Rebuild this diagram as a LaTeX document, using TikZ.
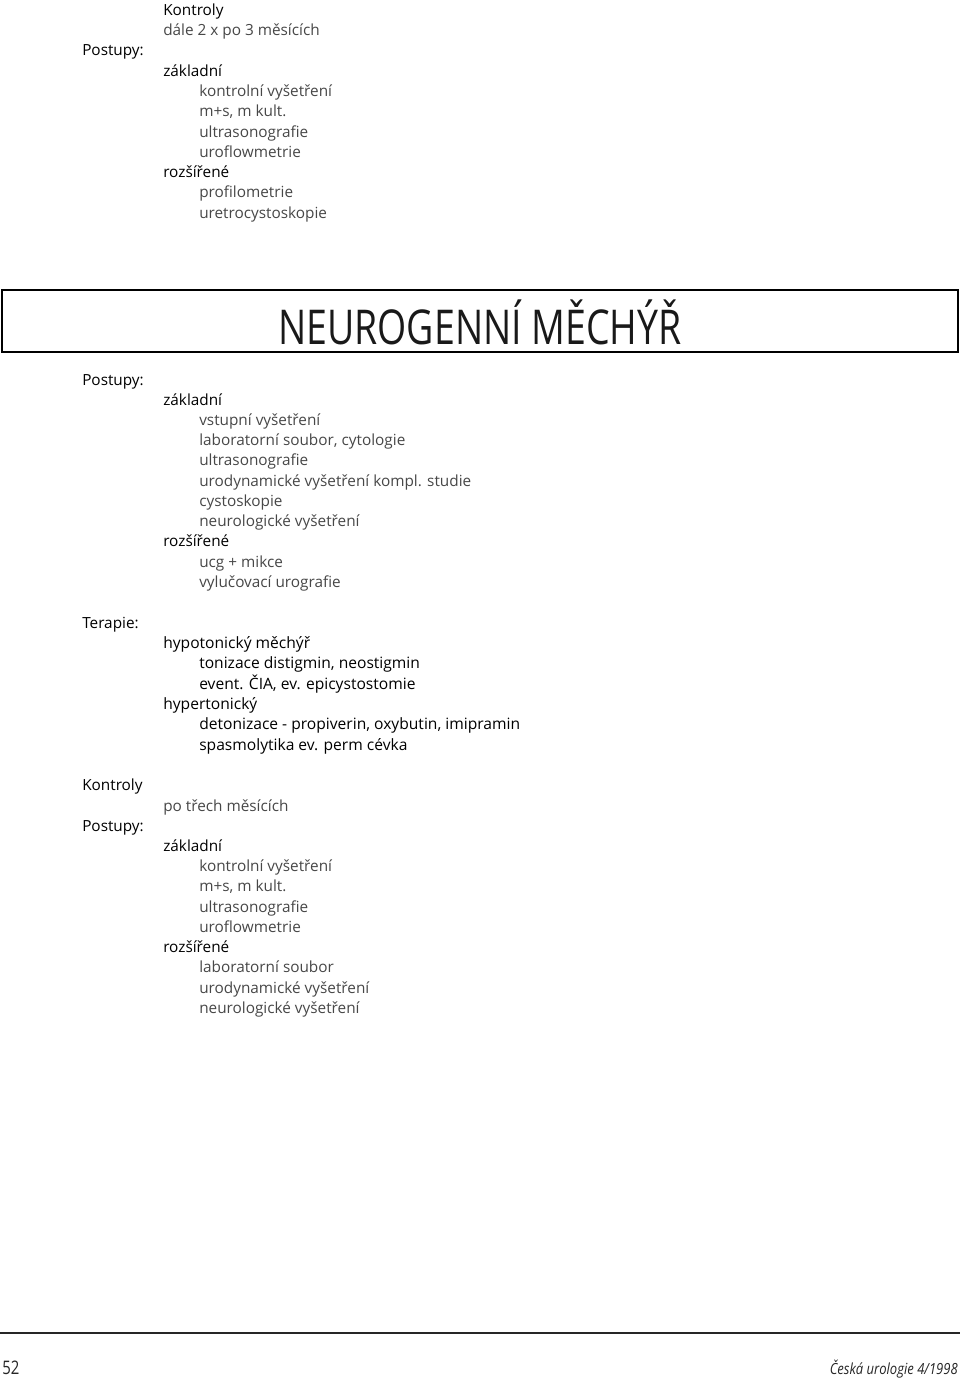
\documentclass[tikz,border=0pt]{standalone}
\usepackage{fontspec}
\setmainfont{Open Sans}
\tikzset{
	tag/.style={anchor=base west, inner sep=0pt, text=black,
		font=\fontsize{11.5}{14}\selectfont},
	head/.style={tag},
	entry/.style={tag, text=black!72},
	thera/.style={tag, font=\fontsize{11.7}{14}\selectfont, text=black}
}

\begin{document}
\begin{tikzpicture}[x=0.75pt,y=-0.75pt]
	\useasboundingbox (0,0) rectangle (960,1378);
	% follow-up block at the top
	\node[head] (k0) at (163,15) {Kontroly};
	\node[entry] (k1) at (163,35) {dále 2 x po 3 měsících};
	\node[tag] (p0) at (82,55) {Postupy:};
	\node[head] (z0) at (163,76) {základní};
	\node[entry] (z1) at (199,96) {kontrolní vyšetření};
	\node[entry] (z2) at (199,116) {m+s, m kult.};
	\node[entry] (z3) at (199,137) {ultrasonografie};
	\node[entry] (z4) at (199,157) {uroflowmetrie};
	\node[head] (r0) at (163,177) {rozšířené};
	\node[entry] (r1) at (199,197) {profilometrie};
	\node[entry] (r2) at (199,218) {uretrocystoskopie};
	
	% title box
	\draw[line width=2pt] (2,290) rectangle (958,352);
	\node[inner sep=0pt, font=\fontsize{36}{40}\selectfont, text=black!90] (title) at (480,322) {\scalebox{0.78}[1]{NEUROGENNÍ MĚCHÝŘ}};
	
	% procedures
	\node[tag] (p1) at (82,385) {Postupy:};
	\node[head] (z5) at (163,405) {základní};
	\node[entry] (v1) at (199,425) {vstupní vyšetření};
	\node[entry] (v2) at (199,445) {laboratorní soubor, cytologie};
	\node[entry] (v3) at (199,465) {ultrasonografie};
	\node[entry] (v4) at (199,486) {urodynamické vyšetření kompl. studie};
	\node[entry] (v5) at (199,506) {cystoskopie};
	\node[entry] (v6) at (199,526) {neurologické vyšetření};
	\node[head] (r3) at (163,546) {rozšířené};
	\node[entry] (v7) at (199,567) {ucg + mikce};
	\node[entry] (v8) at (199,587) {vylučovací urografie};
	
	% therapy
	\node[tag] (t0) at (82,628) {Terapie:};
	\node[thera] (t1) at (163,648) {hypotonický měchýř};
	\node[thera] (t2) at (199,668) {tonizace distigmin, neostigmin};
	\node[thera] (t3) at (199,689) {event. ČIA, ev. epicystostomie};
	\node[thera] (t4) at (163,709) {hypertonický};
	\node[thera] (t5) at (199,729) {detonizace - propiverin, oxybutin, imipramin};
	\node[thera] (t6) at (199,750) {spasmolytika ev. perm cévka};
	
	% follow-up after three months
	\node[tag] (k2) at (82,790) {Kontroly};
	\node[entry] (k3) at (163,811) {po třech měsících};
	\node[tag] (p2) at (82,831) {Postupy:};
	\node[head] (z6) at (163,851) {základní};
	\node[entry] (w1) at (199,871) {kontrolní vyšetření};
	\node[entry] (w2) at (199,891) {m+s, m kult.};
	\node[entry] (w3) at (199,912) {ultrasonografie};
	\node[entry] (w4) at (199,932) {uroflowmetrie};
	\node[head] (r4) at (163,952) {rozšířené};
	\node[entry] (w5) at (199,972) {laboratorní soubor};
	\node[entry] (w6) at (199,993) {urodynamické vyšetření};
	\node[entry] (w7) at (199,1013) {neurologické vyšetření};
	
	% footer
	\draw[line width=2pt, black!85] (0,1333) -- (960,1333);
	\node[tag, font=\fontsize{14}{16}\selectfont, text=black!85] (page) at (2,1374) {\scalebox{0.8}[1]{52}};
	\node[tag, anchor=base east, font=\fontsize{11.5}{14}\selectfont\itshape, text=black!85] (journal) at (958,1374) {\scalebox{0.85}[1]{Česká urologie 4/1998}};
\end{tikzpicture}
\end{document}
